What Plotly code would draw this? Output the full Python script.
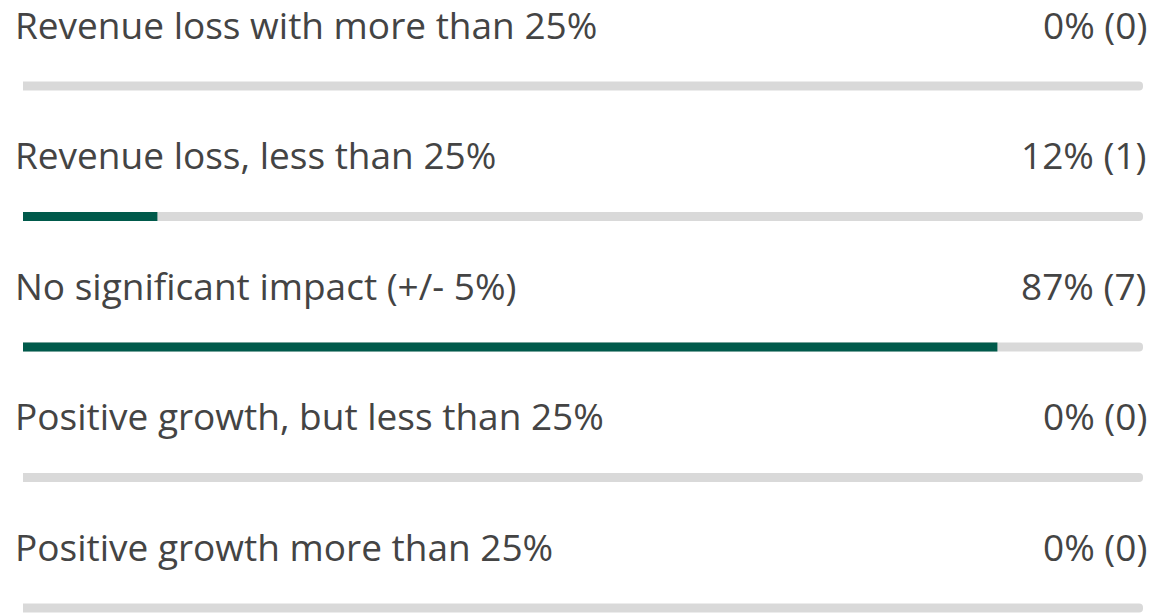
import plotly.graph_objects as go

categories = [
    "Revenue loss with more than 25%",
    "Revenue loss, less than 25%",
    "No significant impact (+/- 5%)",
    "Positive growth, but less than 25%",
    "Positive growth more than 25%",
]
percents = [0, 12, 87, 0, 0]
counts = [0, 1, 7, 0, 0]
track_full = [100] * len(categories)

rows = list(range(len(categories)))
BAR_W = 9 / 130.5
FONT = "Open Sans"
TEXT_COLOR = "#444444"

fig = go.Figure()
fig.add_trace(go.Bar(
    x=track_full, y=rows, orientation="h", width=BAR_W,
    marker=dict(color="#d9d9d9", cornerradius=5, line=dict(width=0)),
    hoverinfo="skip", showlegend=False,
))
fig.add_trace(go.Bar(
    x=percents, y=rows, orientation="h", width=BAR_W,
    marker=dict(color="#005a4b", cornerradius=5, line=dict(width=0)),
    hoverinfo="skip", showlegend=False,
))

annotations = []
for i, (cat, p, c) in enumerate(zip(categories, percents, counts)):
    annotations.append(dict(
        x=0, xref="paper", y=i, yref="y", xanchor="left", yanchor="middle",
        xshift=-10, yshift=62, text=cat, showarrow=False,
        font=dict(family=FONT, size=37, color=TEXT_COLOR),
    ))
    annotations.append(dict(
        x=1, xref="paper", y=i, yref="y", xanchor="right", yanchor="middle",
        xshift=6, yshift=62, text=f"{p}% ({c})", showarrow=False,
        font=dict(family=FONT, size=37, color=TEXT_COLOR),
    ))

fig.update_layout(
    width=1158, height=614,
    margin=dict(l=23, r=15, t=0, b=0),
    paper_bgcolor="white", plot_bgcolor="white",
    barmode="overlay",
    xaxis=dict(range=[0, 100], visible=False, fixedrange=True),
    yaxis=dict(range=[(614 - 86) / 130.5, -86 / 130.5], visible=False, fixedrange=True),
    annotations=annotations,
    showlegend=False,
)

fig.write_html(
    "out.html",
    config={"displayModeBar": False, "staticPlot": True},
    post_script="document.body.style.margin='0';document.body.style.padding='0';document.body.style.overflow='hidden';",
)
